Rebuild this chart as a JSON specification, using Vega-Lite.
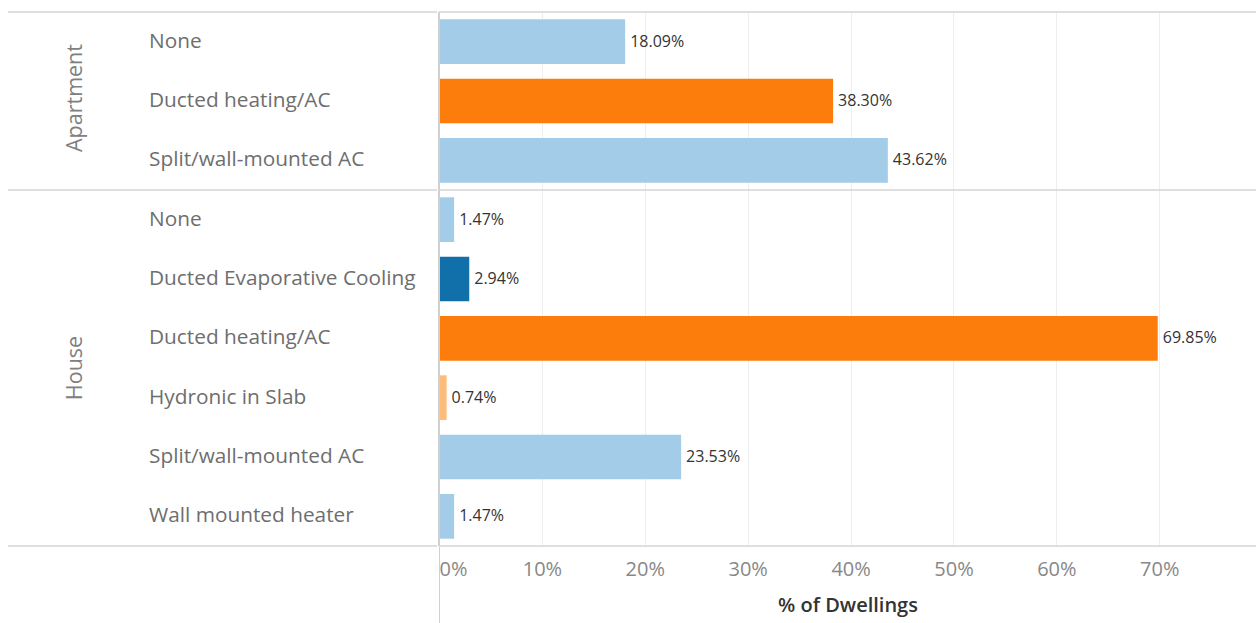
{
  "$schema": "https://vega.github.io/schema/vega-lite/v6.json",
  "padding": {"left": 7, "top": 11, "right": 0, "bottom": 0},
  "background": "white",
  "config": {
    "view": {"stroke": null},
    "font": "Open Sans",
    "concat": {"spacing": 0}
  },
  "data": {
    "values": [
      {"dwelling": "Apartment", "heating": "None", "share": 0.1809},
      {"dwelling": "Apartment", "heating": "Ducted heating/AC", "share": 0.3830},
      {"dwelling": "Apartment", "heating": "Split/wall-mounted AC", "share": 0.4362},
      {"dwelling": "House", "heating": "None", "share": 0.0147},
      {"dwelling": "House", "heating": "Ducted Evaporative Cooling", "share": 0.0294},
      {"dwelling": "House", "heating": "Ducted heating/AC", "share": 0.6985},
      {"dwelling": "House", "heating": "Hydronic in Slab", "share": 0.0074},
      {"dwelling": "House", "heating": "Split/wall-mounted AC", "share": 0.2353},
      {"dwelling": "House", "heating": "Wall mounted heater", "share": 0.0147}
    ]
  },
  "transform": [{"calculate": "datum.dwelling + '|' + datum.heating", "as": "key"}],
  "resolve": {"scale": {"y": "shared"}},
  "hconcat": [
    {
      "width": 429,
      "height": 534,
      "layer": [
        {
          "mark": {"type": "text", "align": "left", "baseline": "middle", "fontSize": 20.8, "color": "#6e6e6e"},
          "encoding": {
            "y": {"field": "key", "type": "nominal", "sort": null, "axis": null, "scale": {"paddingInner": 0, "paddingOuter": 0}},
            "x": {"datum": "Heating type", "type": "nominal", "axis": null, "scale": {"type": "point", "domain": ["Dwelling type", "Heating type"], "range": [68, 141], "padding": 0}},
            "text": {"field": "heating"}
          }
        },
        {
          "transform": [{"filter": "datum.dwelling == 'Apartment' && datum.heating == 'Ducted heating/AC'"}],
          "mark": {"type": "text", "align": "center", "baseline": "middle", "angle": 270, "fontSize": 21.5, "color": "#808080"},
          "encoding": {
            "y": {"field": "key", "type": "nominal", "sort": null, "bandPosition": 0.45},
            "x": {"datum": "Dwelling type", "type": "nominal"},
            "text": {"field": "dwelling"}
          }
        },
        {
          "transform": [{"filter": "datum.dwelling == 'House' && datum.heating == 'Ducted heating/AC'"}],
          "mark": {"type": "text", "align": "center", "baseline": "middle", "angle": 270, "fontSize": 21.5, "color": "#808080"},
          "encoding": {
            "y": {"field": "key", "type": "nominal", "sort": null, "bandPosition": 1},
            "x": {"datum": "Dwelling type", "type": "nominal"},
            "text": {"field": "dwelling"}
          }
        },
        {
          "transform": [{"filter": "datum.heating == 'None'"}],
          "mark": {"type": "rule", "color": "#d4d4d4", "strokeWidth": 1.5},
          "encoding": {"y": {"field": "key", "type": "nominal", "sort": null, "bandPosition": 0}}
        },
        {
          "transform": [{"filter": "datum.heating == 'Wall mounted heater'"}],
          "mark": {"type": "rule", "color": "#d4d4d4", "strokeWidth": 1.5},
          "encoding": {"y": {"field": "key", "type": "nominal", "sort": null, "bandPosition": 1}}
        }
      ]
    },
    {
      "width": 817,
      "height": 534,
      "layer": [
        {
          "mark": {"type": "bar", "height": {"band": 0.754}},
          "encoding": {
            "y": {"field": "key", "type": "nominal", "sort": null, "axis": null, "scale": {"paddingInner": 0, "paddingOuter": 0}},
            "x": {
              "field": "share",
              "type": "quantitative",
              "scale": {"domain": [0, 0.794], "nice": false},
              "axis": {
                "values": [0, 0.1, 0.2, 0.3, 0.4, 0.5, 0.6, 0.7],
                "format": ".0%",
                "grid": true,
                "gridColor": {"condition": {"test": "datum.value == 0", "value": "transparent"}, "value": "#eeeeee"},
                "gridWidth": 1,
                "domain": false,
                "ticks": true,
                "tickSize": 78,
                "tickColor": {"condition": {"test": "datum.value == 0", "value": "#d0d0d0"}, "value": "transparent"},
                "labelPadding": -65,
                "labelFlush": true,
                "labelColor": "#888888",
                "labelFontSize": 20,
                "title": "% of Dwellings",
                "titleColor": "#333333",
                "titleFontSize": 20,
                "titleFontWeight": 600,
                "titleY": 49,
                "titleBaseline": "top"
              }
            },
            "color": {
              "field": "heating",
              "type": "nominal",
              "legend": null,
              "scale": {
                "domain": ["None", "Ducted heating/AC", "Split/wall-mounted AC", "Ducted Evaporative Cooling", "Hydronic in Slab", "Wall mounted heater"],
                "range": ["#a3cce9", "#fc7d0b", "#a3cce9", "#1170aa", "#ffbc79", "#a3cce9"]
              }
            }
          }
        },
        {
          "mark": {"type": "text", "align": "left", "baseline": "middle", "dx": 5, "fontSize": 16, "color": "#333333"},
          "encoding": {
            "y": {"field": "key", "type": "nominal", "sort": null},
            "x": {"field": "share", "type": "quantitative"},
            "text": {"field": "share", "type": "quantitative", "format": ".2%"}
          }
        },
        {
          "mark": {"type": "rule", "color": "#d0d0d0", "strokeWidth": 1},
          "encoding": {"x": {"datum": 0}}
        },
        {
          "transform": [{"filter": "datum.heating == 'None'"}],
          "mark": {"type": "rule", "color": "#d4d4d4", "strokeWidth": 1.5},
          "encoding": {"y": {"field": "key", "type": "nominal", "sort": null, "bandPosition": 0}}
        },
        {
          "transform": [{"filter": "datum.heating == 'Wall mounted heater'"}],
          "mark": {"type": "rule", "color": "#d4d4d4", "strokeWidth": 1.5},
          "encoding": {"y": {"field": "key", "type": "nominal", "sort": null, "bandPosition": 1}}
        }
      ]
    }
  ]
}
